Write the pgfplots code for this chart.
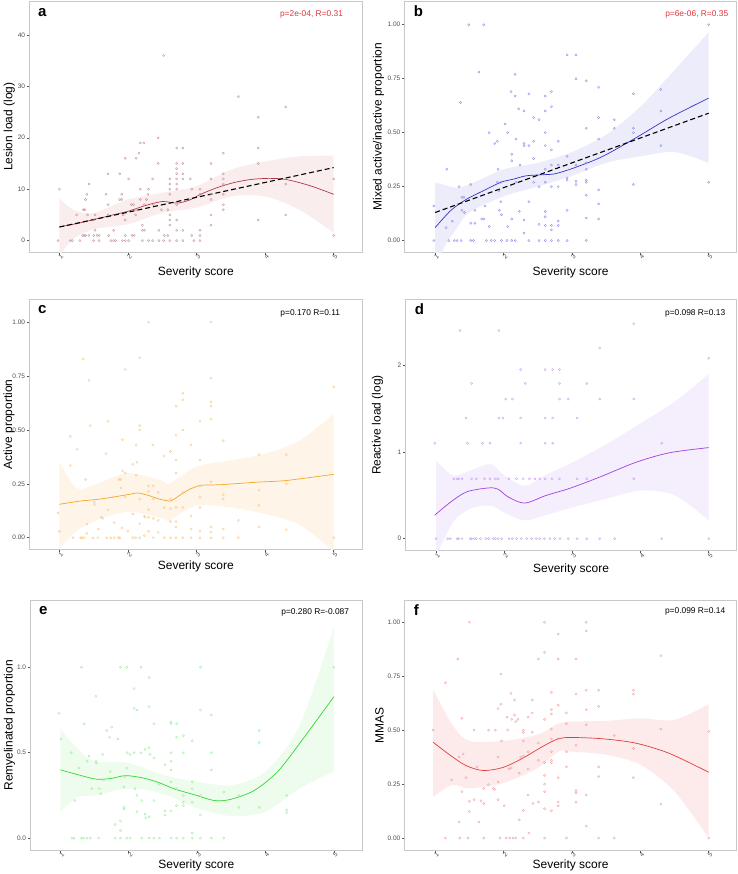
\documentclass[border=0pt]{standalone}
\usepackage{fontspec}
\setmainfont{Liberation Sans}
\usepackage{pgfplots}
\pgfplotsset{compat=1.18}
\usepgfplotslibrary{fillbetween}

\definecolor{framec}{HTML}{C8C8C8}
\definecolor{tickc}{HTML}{555555}
\definecolor{ticktext}{HTML}{4D4D4D}
\definecolor{annred}{HTML}{E0353A}
% panel colours: line, points, band
\definecolor{aLine}{HTML}{B03A48}\definecolor{aPts}{HTML}{C7909A}\definecolor{aBand}{HTML}{F9EDEE}
\definecolor{bLine}{HTML}{3333CC}\definecolor{bPts}{HTML}{8C8CE6}\definecolor{bBand}{HTML}{ECECFA}
\definecolor{cLine}{HTML}{F5A623}\definecolor{cPts}{HTML}{F7C98A}\definecolor{cBand}{HTML}{FEF5E8}
\definecolor{dLine}{HTML}{A040E0}\definecolor{dPts}{HTML}{C8A0F0}\definecolor{dBand}{HTML}{F5EEFD}
\definecolor{eLine}{HTML}{33D633}\definecolor{ePts}{HTML}{A0EBA0}\definecolor{eBand}{HTML}{EDFCED}
\definecolor{fLine}{HTML}{E03C3C}\definecolor{fPts}{HTML}{F0A0A0}\definecolor{fBand}{HTML}{FDEBEB}

\pgfplotsset{
  panel/.style={
    scale only axis,
    anchor=south west,
    axis line style={draw=framec, line width=0.7pt},
    tick pos=left,
    tick align=outside,
    major tick length=2.5pt,
    tick style={draw=tickc, line width=0.5pt},
    tick label style={font=\fontsize{6.5}{7}\selectfont, text=ticktext},
    yticklabel style={inner sep=1.5pt},
    xtick={1,2,3,4,5},
    xticklabels={1,2,3,4,5},
    xticklabel style={yshift=-2pt, xshift=1.5pt, rotate=45, anchor=center},
    label style={font=\fontsize{12}{14}\selectfont},
    xlabel={Severity score},
    /pgf/number format/assume math mode=true,
  },
  pts/.style={only marks, mark=o, mark size=1.1pt, mark options={line width=0.35pt, draw=#1}},
  fit/.style={draw=#1, line width=0.7pt, smooth, no marks},
  edge/.style={draw=none, smooth, no marks, forget plot},
  lin/.style={black, line width=1.1pt, dash pattern=on 5pt off 3pt, no marks},
}
\tikzset{
  letter/.style={anchor=base west, font=\bfseries\fontsize{15}{15}\selectfont},
  ann/.style={anchor=east, font=\fontsize{8.4}{9}\selectfont},
}

\begin{document}
\begin{tikzpicture}
\path (0,0) rectangle (738pt,874pt);

% ---------------- a ----------------
\begin{axis}[panel, at={(28pt,621pt)}, width=334pt, height=252pt,
  xmin=0.56, xmax=5.42, ymin=-2.3, ymax=46.6,
  ytick={0,10,20,30,40}, yticklabels={0,10,20,30,40},
  ylabel={Lesion load (log)},
  xlabel style={at={(axis description cs:0.5,0)}, anchor=center, yshift=-20pt},
  ylabel style={at={(axis description cs:-0.060,0.5)}, anchor=center}]
\addplot[edge, name path=aup] coordinates {(1,8.3) (1.2,6) (1.5,5.4) (2,8) (2.5,9.3) (3,10.6) (3.5,13.8) (4,15.4) (4.5,16.4) (5,16.5)};
\addplot[edge, name path=alo] coordinates {(1,-3) (1.2,0.3) (1.5,2.2) (2,3.2) (2.5,5.4) (3,6.4) (3.5,8.6) (4,8.6) (4.5,6) (5,1.5)};
\addplot[fill=aBand, draw=none] fill between[of=aup and alo];
\addplot[pts=aPts] coordinates {
(1.00,10) (0.98,0) (1.16,0) (1.19,0) (1.30,0) (1.25,5) (1.34,1) (1.36,1) (1.38,1) (1.35,6) (1.37,6) (1.38,8)
(1.43,11) (1.40,9) (1.41,5) (1.43,1) (1.50,4) (1.52,2) (1.50,1) (1.55,1) (1.58,1) (1.50,0) (1.58,0) (1.52,5)
(1.71,13) (1.71,7) (1.68,9) (1.71,5) (1.72,1) (1.75,0) (1.79,0) (1.82,0) (1.79,2) (1.88,13) (1.88,8) (1.91,8)
(1.91,9) (1.93,5) (1.96,4) (1.96,16) (2.01,12) (2.01,0) (1.96,0) (1.92,0) (1.96,1) (2.05,7) (2.08,7) (2.06,1)
(2.09,1) (2.11,5) (2.12,6) (2.12,16) (2.16,17) (2.18,19) (2.23,19) (2.18,10) (2.18,8) (2.21,2) (2.24,2) (2.21,3)
(2.29,9) (2.30,10) (2.27,8) (2.24,7) (2.37,7) (2.21,0) (2.30,0) (2.36,0) (2.45,0) (2.52,0) (2.61,0) (2.36,12)
(2.44,15) (2.44,20) (2.52,36) (2.49,6) (2.45,2) (2.53,1) (2.58,1) (2.58,6) (2.61,12) (2.61,11) (2.61,10) (2.61,9)
(2.61,5) (2.61,4) (2.61,3) (2.71,18) (2.71,15) (2.71,14) (2.71,13) (2.71,12) (2.71,11) (2.71,10) (2.71,7) (2.71,4)
(2.71,2) (2.71,0) (2.80,18) (2.80,15) (2.80,13) (2.80,12) (2.80,2) (2.80,0) (2.91,12) (2.93,10) (2.93,1) (2.96,0)
(3.05,2) (3.05,1) (3.05,0) (3.05,10) (3.05,9) (3.21,15) (3.21,12) (3.21,9) (3.21,8) (3.21,5) (3.21,3) (3.39,17)
(3.39,13) (3.39,12) (3.39,11) (3.39,9) (3.39,7) (3.39,6) (3.61,28) (3.90,24) (3.90,18) (3.90,15) (3.90,4) (4.30,26)
(4.30,11) (4.30,5) (5.00,12) (5.00,1)};
\addplot[fit=aLine] coordinates {(1.0,2.7) (1.25,3.3) (1.5,4.1) (1.75,4.9) (2.0,5.7) (2.25,6.8) (2.5,7.6) (2.72,7.3) (2.9,7.9) (3.06,9.0) (3.3,10.3) (3.55,11.3) (3.8,11.9) (4.05,12.1) (4.3,11.9) (4.65,10.7) (5.0,9.0)};
\addplot[lin] coordinates {(1,2.64) (5,14.2)};
\node[letter] at (rel axis cs:0.016,0.94) {a};
\node[ann, text=annred] at (rel axis cs:0.952,0.948) {p=2e-04, R=0.31};
\end{axis}

% ---------------- b ----------------
\begin{axis}[panel, at={(404pt,621pt)}, width=333pt, height=252pt,
  xmin=0.55, xmax=5.41, ymin=-0.055, ymax=1.11,
  ytick={0,0.25,0.5,0.75,1}, yticklabels={0.00,0.25,0.50,0.75,1.00},
  ylabel={Mixed active/inactive proportion},
  xlabel style={at={(axis description cs:0.5,0)}, anchor=center, yshift=-20pt},
  ylabel style={at={(axis description cs:-0.078,0.5)}, anchor=center}]
\addplot[edge, name path=bup] coordinates {(1,0.27) (1.3,0.245) (1.5,0.26) (2,0.33) (2.5,0.36) (3,0.41) (3.5,0.49) (4,0.62) (4.5,0.79) (5,0.965)};
\addplot[edge, name path=blo] coordinates {(1,-0.12) (1.15,-0.02) (1.3,0.05) (1.5,0.13) (2,0.205) (2.5,0.25) (3,0.30) (3.5,0.36) (4,0.39) (4.5,0.41) (5,0.36)};
\addplot[fill=bBand, draw=none] fill between[of=bup and blo];
\addplot[pts=bPts] coordinates {
(0.98,0) (0.98,0.16) (1.17,0.33) (1.16,0.06) (1.20,0) (1.28,0) (1.32,0) (1.38,0) (1.25,0.09) (1.35,0.25) (1.37,0.64)
(1.39,0.2) (1.42,0.2) (1.39,0.14) (1.43,0.13) (1.49,1.0) (1.52,0.26) (1.52,0.08) (1.58,0.08) (1.52,0) (1.56,0)
(1.58,0.14) (1.64,0.78) (1.68,0.1) (1.71,0.1) (1.71,1.0) (1.73,0.16) (1.75,0) (1.82,0) (1.87,0) (1.79,0.5)
(1.79,0.065) (1.87,0.45) (1.91,0.46) (1.92,0.33) (1.91,0.27) (1.93,0.23) (1.94,0.14) (1.96,0.27) (1.96,0.18)
(1.97,0.12) (1.97,0) (2.05,0) (2.12,0) (2.17,0) (2.02,0.54) (2.06,0.5) (2.06,0.065) (2.11,0.69) (2.12,0.4)
(2.12,0.37) (2.12,0.1) (2.17,0.77) (2.17,0.67) (2.18,0.47) (2.18,0.27) (2.22,0.61) (2.24,0.35) (2.23,0.135)
(2.30,0.6) (2.30,0.44) (2.30,0.45) (2.30,0.095) (2.30,0.035) (2.37,0.68) (2.37,0.44) (2.37,0.18) (2.37,0)
(2.44,0.57) (2.44,0.46) (2.44,0.38) (2.44,0.27) (2.52,0.56) (2.52,0.25) (2.52,0.075) (2.52,0)
(2.61,0.67) (2.61,0.6) (2.61,0.5) (2.61,0.44) (2.61,0.33) (2.61,0.27) (2.61,0.135) (2.61,0.11) (2.61,0.07) (2.61,0)
(2.70,0.69) (2.70,0.62) (2.70,0.42) (2.70,0.35) (2.70,0.25) (2.70,0.07) (2.70,0.05) (2.70,0)
(2.80,0.46) (2.80,0.35) (2.80,0.25) (2.80,0.09) (2.80,0.07) (2.80,0) (2.93,0.86) (3.06,0.86) (2.93,0.39)
(2.93,0.29) (2.93,0.28) (2.93,0.14) (2.93,0) (3.06,0.75) (3.06,0.35) (3.06,0.275) (3.06,0.26) (3.21,0.74)
(3.21,0.52) (3.21,0.36) (3.21,0.33) (3.21,0.28) (3.21,0.27) (3.21,0.21) (3.21,0.105) (3.21,0) (3.39,0.71)
(3.39,0.57) (3.39,0.47) (3.39,0.235) (3.39,0.17) (3.39,0.1) (3.62,0.56) (3.62,0.52) (3.90,0.68) (3.90,0.52)
(3.90,0.5) (3.90,0.26) (4.30,0.7) (4.30,0.6) (4.30,0.44) (5.0,1.0) (5.0,0.27)};
\addplot[fit=bLine] coordinates {(1.0,0.06) (1.23,0.14) (1.45,0.19) (1.7,0.23) (1.96,0.27) (2.15,0.285) (2.33,0.30) (2.57,0.305) (2.76,0.31) (3.06,0.34) (3.45,0.39) (3.93,0.475) (4.42,0.567) (5,0.66)};
\addplot[lin] coordinates {(1,0.13) (5,0.59)};
\node[letter] at (rel axis cs:0.018,0.94) {b};
\node[ann, text=annred] at (rel axis cs:0.985,0.948) {p=6e-06, R=0.35};
\end{axis}

% ---------------- c ----------------
\begin{axis}[panel, at={(28pt,323pt)}, width=334pt, height=251pt,
  xmin=0.56, xmax=5.42, ymin=-0.056, ymax=1.106,
  ytick={0,0.25,0.5,0.75,1}, yticklabels={0.00,0.25,0.50,0.75,1.00},
  ylabel={Active proportion},
  xlabel style={at={(axis description cs:0.5,0)}, anchor=center, yshift=-17pt},
  ylabel style={at={(axis description cs:-0.061,0.5)}, anchor=center}]
\addplot[edge, name path=cup] coordinates {(1,0.35) (1.25,0.23) (1.5,0.245) (2,0.3) (2.5,0.265) (2.6,0.25) (3,0.33) (3.5,0.36) (4,0.39) (4.5,0.45) (5,0.575)};
\addplot[edge, name path=clo] coordinates {(1,-0.05) (1.25,0.03) (1.5,0.075) (2,0.12) (2.5,0.09) (2.6,0.08) (3,0.15) (3.5,0.14) (4,0.11) (4.5,0.06) (5,-0.065)};
\addplot[fill=cBand, draw=none] fill between[of=cup and clo];
\addplot[pts=cPts] coordinates {
(0.98,0.115) (1.0,0.03) (1.16,0.335) (1.16,0.47) (1.20,0) (1.31,0) (1.33,0) (1.36,0) (1.49,0) (1.56,0) (1.26,0.41)
(1.35,0.83) (1.38,0.27) (1.43,0.73) (1.45,0.52) (1.40,0.063) (1.40,0.02) (1.51,0.165) (1.51,0.155) (1.57,0.04)
(1.61,0.095) (1.63,0.09) (1.68,0.39) (1.71,0.54) (1.71,0.13) (1.69,0) (1.75,0) (1.80,0) (1.86,0) (1.88,0)
(1.79,0.19) (1.80,0.07) (1.87,0.27) (1.89,0.27) (1.90,0.23) (1.91,0.045) (1.92,0.455) (1.92,0.31) (1.96,0.78)
(1.96,0.3) (1.96,0.19) (2.00,0.03) (2.07,0) (2.11,0) (2.07,0.34) (2.07,0.11) (2.12,0.43) (2.13,0.35) (2.12,0.29)
(2.17,0.835) (2.17,0.52) (2.17,0.5) (2.17,0.18) (2.17,0.065) (2.17,0) (2.24,0.1) (2.25,0.095) (2.24,0.01)
(2.30,1.0) (2.30,0.24) (2.30,0.215) (2.30,0.13) (2.30,0.095) (2.30,0.03) (2.36,0.43) (2.37,0.24) (2.37,0.18)
(2.37,0.09) (2.37,0) (2.44,0.21) (2.44,0.08) (2.44,0.025) (2.52,0.38) (2.53,0.14) (2.53,0) (2.62,0.40)
(2.62,0.18) (2.62,0.135) (2.62,0.075) (2.62,0) (2.70,0.61) (2.70,0.475) (2.70,0.36) (2.70,0.3) (2.70,0.14)
(2.70,0.075) (2.70,0.05) (2.70,0) (2.80,0.67) (2.80,0.64) (2.80,0.5) (2.80,0.21) (2.80,0.14) (2.80,0)
(2.92,0.43) (2.92,0.1) (2.92,0.04) (2.92,0) (3.05,0.54) (3.05,0.36) (3.05,0.24) (3.05,0.19) (3.05,0.14)
(3.05,0.03) (3.05,0) (3.21,1.0) (3.21,0.74) (3.21,0.63) (3.21,0.61) (3.21,0.55) (3.21,0.26) (3.21,0.05)
(3.21,0.025) (3.21,0) (3.39,0.45) (3.39,0.2) (3.39,0.18) (3.39,0.04) (3.39,0) (3.61,0.08) (3.61,0)
(3.91,0.385) (3.91,0.22) (3.91,0.15) (3.91,0.05) (4.31,0.385) (4.31,0.25) (4.31,0.037) (5.0,0.7) (5.0,0)};
\addplot[fit=cLine, tension=0.3] coordinates {(1,0.155) (1.3,0.17) (1.61,0.18) (2.0,0.2) (2.14,0.208) (2.29,0.197) (2.45,0.18) (2.62,0.17) (2.77,0.2) (2.9,0.225) (3.06,0.243) (3.35,0.246) (3.9,0.258) (4.3,0.265) (5,0.294)};
\node[letter] at (rel axis cs:0.016,0.944) {c};
\node[ann] at (rel axis cs:0.943,0.944) {p=0.170 R=0.11};
\end{axis}

% ---------------- d ----------------
\begin{axis}[panel, at={(405pt,322pt)}, width=332pt, height=252pt,
  xmin=0.55, xmax=5.41, ymin=-0.14, ymax=2.76,
  ytick={0,1,2}, yticklabels={0,1,2},
  ylabel={Reactive load (log)},
  xlabel style={at={(axis description cs:0.5,0)}, anchor=center, yshift=-19pt},
  ylabel style={at={(axis description cs:-0.084,0.5)}, anchor=center}]
\addplot[edge, name path=dup] coordinates {(1,0.9) (1.25,0.73) (1.5,0.785) (1.8,0.86) (2,0.73) (2.3,0.61) (2.6,0.73) (3,0.88) (3.5,1.09) (4,1.33) (4.5,1.58) (5,1.9)};
\addplot[edge, name path=dlo] coordinates {(1,-0.2) (1.25,0.19) (1.5,0.345) (1.8,0.38) (2,0.3) (2.3,0.21) (2.6,0.27) (3,0.36) (3.5,0.46) (4,0.555) (4.5,0.5) (5,0.21)};
\addplot[fill=dBand, draw=none] fill between[of=dup and dlo];
\addplot[pts=dPts] coordinates {
(1.00,0) (1.17,0) (1.21,0) (1.31,0) (1.33,0) (1.38,0) (1.50,0) (1.52,0) (1.56,0) (1.59,0) (1.65,0) (1.73,0)
(1.77,0) (1.84,0) (1.87,0) (1.91,0) (1.96,0) (2.07,0) (2.12,0) (2.18,0) (2.25,0) (2.33,0) (2.40,0) (2.47,0)
(2.52,0) (2.59,0) (2.67,0) (2.74,0) (2.82,0) (2.94,0) (3.07,0) (3.21,0) (3.40,0) (3.62,0) (4.31,0) (5.00,0)
(1.26,0.69) (1.31,0.69) (1.33,0.69) (1.38,0.69) (1.52,0.69) (1.59,0.69) (1.71,0.69) (1.79,0.69) (1.87,0.69)
(1.91,0.69) (2.07,0.69) (2.18,0.69) (2.28,0.69) (2.37,0.69) (2.45,0.69) (2.52,0.69) (2.60,0.69) (2.70,0.69)
(2.81,0.69) (3.07,0.69) (3.21,0.69) (3.90,0.69)
(0.98,1.1) (1.35,2.4) (1.44,1.39) (1.46,1.1) (1.52,1.79) (1.68,1.1) (1.79,1.1) (1.92,2.4) (1.92,1.39) (1.98,1.39)
(2.02,1.61) (2.12,1.61) (2.24,1.95) (2.24,1.39) (2.24,1.1) (2.31,1.79) (2.60,1.95) (2.71,1.95) (2.81,1.95)
(2.60,1.39) (2.71,1.39) (2.60,1.1) (2.71,1.1) (2.81,1.79) (2.81,1.61) (2.94,1.61) (3.07,1.39) (3.21,1.79)
(3.40,2.2) (3.40,1.61) (3.90,2.48) (3.90,1.61) (4.31,1.1) (5.0,2.08)};
\addplot[fit=dLine] coordinates {(0.98,0.27) (1.21,0.42) (1.45,0.54) (1.77,0.585) (1.91,0.57) (2.06,0.48) (2.30,0.41) (2.62,0.5) (2.96,0.58) (3.4,0.71) (3.93,0.88) (4.42,0.99) (5,1.05)};
\node[letter] at (rel axis cs:0.018,0.94) {d};
\node[ann] at (rel axis cs:0.976,0.944) {p=0.098 R=0.13};
\end{axis}

% ---------------- e ----------------
\begin{axis}[panel, at={(29pt,22pt)}, width=333pt, height=250pt,
  xmin=0.56, xmax=5.42, ymin=-0.07, ymax=1.39,
  ytick={0,0.5,1}, yticklabels={0.0,0.5,1.0},
  ylabel={Remyelinated proportion},
  xlabel style={at={(axis description cs:0.5,0)}, anchor=center, yshift=-15pt},
  ylabel style={at={(axis description cs:-0.062,0.5)}, anchor=center}]
\addplot[edge, name path=eup] coordinates {(1,0.64) (1.25,0.525) (1.5,0.45) (2,0.44) (2.5,0.37) (3,0.33) (3.5,0.31) (4,0.39) (4.5,0.66) (5,1.235)};
\addplot[edge, name path=elo] coordinates {(1,0.155) (1.25,0.24) (1.5,0.25) (2,0.29) (2.5,0.26) (3,0.175) (3.5,0.13) (4,0.155) (4.5,0.29) (5,0.39)};
\addplot[fill=eBand, draw=none] fill between[of=eup and elo];
\addplot[pts=ePts] coordinates {
(0.98,0.73) (1.01,0.58) (1.16,0.5) (1.17,0) (1.20,0) (1.31,0) (1.34,0) (1.39,0) (1.44,0) (1.56,0) (1.21,0.22)
(1.27,0.41) (1.31,1.0) (1.35,0.67) (1.39,0.45) (1.42,0.48) (1.46,0.29) (1.52,0.83) (1.52,0.45) (1.53,0.44)
(1.57,0.29) (1.59,0.26) (1.62,0.49) (1.64,0.34) (1.68,0.63) (1.72,0.59) (1.75,0.65) (1.73,0.39) (1.80,0.08)
(1.80,0) (1.84,0.58) (1.88,1.0) (1.97,1.0) (1.88,0) (1.97,0) (2.02,0) (1.88,0.1) (1.88,0.045) (1.93,0.18)
(1.93,0.17) (1.94,0.36) (1.93,0.3) (1.97,0.41) (1.98,0.5) (2.02,0.49) (2.08,0.875) (2.08,0.76) (2.12,0.75)
(2.08,0.5) (2.09,0.29) (2.12,0.25) (2.12,0.155) (2.18,1.0) (2.18,0.5) (2.19,0.22) (2.19,0) (2.24,0.52)
(2.24,0.14) (2.25,0.12) (2.30,0.94) (2.30,0.77) (2.30,0.53) (2.31,0.49) (2.30,0.125) (2.30,0) (2.37,0.67)
(2.37,0.47) (2.37,0.22) (2.37,0) (2.44,0.315) (2.45,0) (2.53,0.16) (2.53,0.135) (2.53,0.43) (2.62,0.68)
(2.62,0.67) (2.62,0.5) (2.62,0.45) (2.62,0.4) (2.62,0.33) (2.62,0.16) (2.62,0) (2.70,0.67) (2.70,0.59)
(2.70,0.29) (2.70,0.19) (2.70,0) (2.80,0.6) (2.80,0.5) (2.80,0.25) (2.80,0.21) (2.80,0.19) (2.80,0)
(2.93,0.57) (2.93,0.33) (2.93,0.29) (2.93,0.21) (2.93,0.03) (2.93,0) (3.05,1.0) (3.05,0.75) (3.05,0.25)
(3.05,0.135) (3.05,0) (3.21,0.72) (3.21,0.5) (3.21,0.4) (3.21,0) (3.39,0.27) (3.39,0) (3.61,0.25) (3.61,0.18)
(3.91,0.63) (3.91,0.56) (3.91,0.18) (4.31,0.25) (4.31,0.165) (4.31,0.15) (5.0,1.0)};
\addplot[fit=eLine] coordinates {(1,0.4) (1.27,0.37) (1.53,0.345) (1.75,0.35) (1.95,0.366) (2.19,0.354) (2.43,0.327) (2.67,0.288) (2.97,0.253) (3.26,0.22) (3.5,0.228) (3.84,0.28) (4.18,0.39) (4.52,0.565) (5,0.827)};
\node[letter] at (rel axis cs:0.016,0.944) {e};
\node[ann] at (rel axis cs:0.97,0.952) {p=0.280 R=-0.087};
\end{axis}

% ---------------- f ----------------
\begin{axis}[panel, at={(404pt,22pt)}, width=333pt, height=250pt,
  xmin=0.55, xmax=5.41, ymin=-0.056, ymax=1.10,
  ytick={0,0.25,0.5,0.75,1}, yticklabels={0.00,0.25,0.50,0.75,1.00},
  ylabel={MMAS},
  xlabel style={at={(axis description cs:0.5,0)}, anchor=center, yshift=-15pt},
  ylabel style={at={(axis description cs:-0.075,0.5)}, anchor=center}]
\addplot[edge, name path=fup] coordinates {(0.97,0.69) (1.25,0.525) (1.5,0.45) (2,0.45) (2.5,0.48) (2.8,0.53) (3,0.54) (3.5,0.543) (4,0.555) (4.5,0.548) (5,0.62)};
\addplot[edge, name path=flo] coordinates {(0.97,0.19) (1.25,0.247) (1.5,0.23) (2,0.255) (2.5,0.324) (2.8,0.4) (3,0.4) (3.5,0.386) (4,0.34) (4.5,0.216) (5,0)};
\addplot[fill=fBand, draw=none] fill between[of=fup and flo];
\addplot[pts=fPts] coordinates {
(0.97,0.5) (1.15,0.72) (1.15,0) (1.24,0.27) (1.33,0.83) (1.35,0.375) (1.35,0.074) (1.36,0) (1.39,0.555)
(1.39,0.215) (1.41,0.39) (1.45,0.28) (1.48,0) (1.50,1.0) (1.50,0.17) (1.50,0.123) (1.57,0.5) (1.57,0.178)
(1.61,0.33) (1.64,0.074) (1.67,0.173) (1.71,0.23) (1.71,0.16) (1.71,0) (1.78,0.5) (1.78,0.247) (1.85,0.23)
(1.87,0.225) (1.88,0.5) (1.92,0.6) (1.92,0.375) (1.92,0.26) (1.92,0.178) (1.95,0) (1.96,0.76) (1.96,0.62)
(1.97,0.45) (2.01,0.15) (2.04,0) (2.09,0) (2.14,0) (2.18,0) (2.29,0) (2.05,0.56) (2.06,0.5) (2.08,0.32)
(2.11,0.325) (2.11,0.67) (2.12,0.55) (2.16,0.64) (2.16,0.57) (2.18,0.54) (2.21,0.55) (2.23,0.30) (2.23,0.085)
(2.25,0.375) (2.29,0.5) (2.29,0.49) (2.29,0.45) (2.29,0.38) (2.29,0.128) (2.36,0.56) (2.36,0.4) (2.36,0.32)
(2.36,0.2) (2.37,0.023) (2.42,0.64) (2.42,0.58) (2.42,0.49) (2.43,0.16) (2.51,0.83) (2.51,0.44) (2.51,0.36)
(2.51,0.167) (2.60,1.0) (2.60,0.86) (2.60,0.55) (2.60,0.35) (2.60,0.29) (2.60,0.25) (2.60,0.215) (2.60,0.136)
(2.60,0) (2.70,0.675) (2.70,0.595) (2.70,0.575) (2.70,0.505) (2.70,0.46) (2.70,0.4) (2.70,0.36) (2.70,0.35)
(2.70,0.127) (2.80,0.945) (2.80,0.83) (2.80,0.615) (2.80,0.46) (2.80,0.28) (2.80,0.167) (2.80,0.15)
(2.92,0.58) (2.92,0.53) (2.92,0.4) (2.92,0.33) (2.92,0) (3.06,0.83) (3.06,0.667) (3.06,0.43) (3.06,0.22)
(3.06,0.21) (3.06,0.167) (3.21,1.0) (3.21,0.96) (3.21,0.685) (3.21,0.595) (3.21,0.525) (3.21,0.2) (3.21,0.055)
(3.39,0.685) (3.39,0.61) (3.39,0.33) (3.39,0.285) (3.39,0) (3.62,0.475) (3.62,0) (3.90,0.685) (3.90,0.667)
(3.90,0.415) (3.90,0.28) (4.30,0.845) (4.30,0.505) (4.30,0.157) (5.0,0.494) (5.0,0)};
\addplot[fit=fLine] coordinates {(0.97,0.444) (1.21,0.386) (1.45,0.336) (1.7,0.313) (1.99,0.327) (2.28,0.37) (2.57,0.424) (2.8,0.46) (3.0,0.466) (3.45,0.46) (3.93,0.44) (4.42,0.393) (5,0.305)};
\node[letter] at (rel axis cs:0.018,0.94) {f};
\node[ann] at (rel axis cs:0.976,0.956) {p=0.099 R=0.14};
\end{axis}
\end{tikzpicture}
\end{document}
